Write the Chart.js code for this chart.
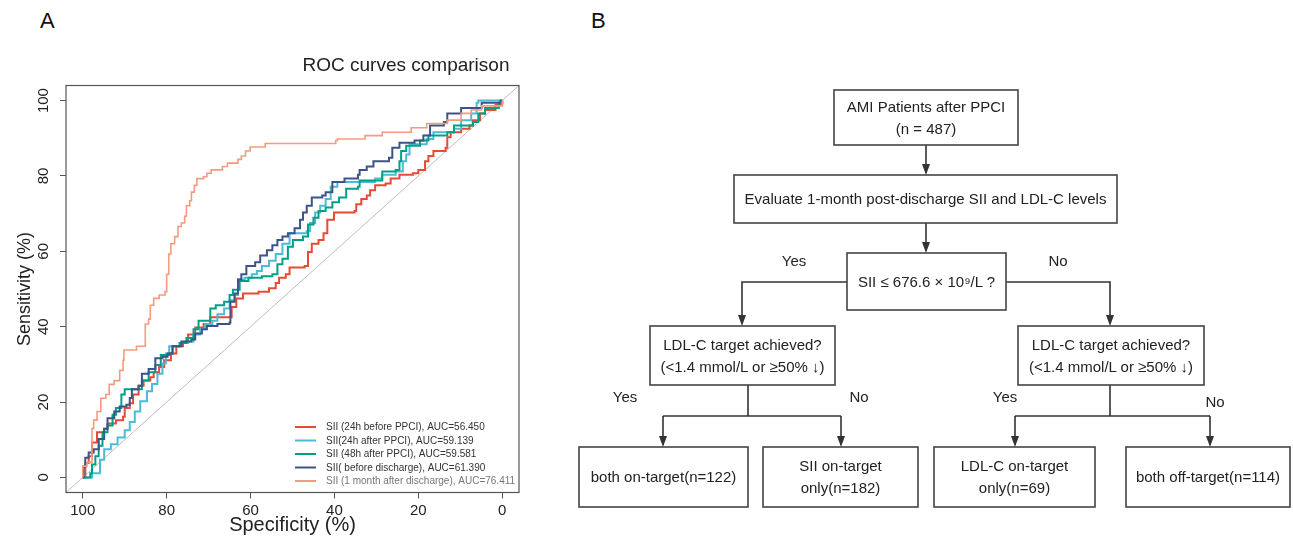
<!DOCTYPE html>
<html>
<head>
<meta charset="utf-8">
<script src="https://cdn.jsdelivr.net/npm/chart.js@4"></script>
<style>
  html, body { margin: 0; padding: 0; background: #fff; }
  body { width: 1293px; height: 537px; position: relative; overflow: hidden; font-family: 'Liberation Sans', Arial, sans-serif; }
  #roc { position: absolute; left: 0; top: 0; }
  .panel { position: absolute; font-size: 22px; line-height: 22px; color: #111; }
  #flow { position: absolute; left: 0; top: 0; }
</style>
</head>
<body>
<div class="panel" style="left:40px;top:10px">A</div>
<div class="panel" style="left:591px;top:10px">B</div>
<canvas id="roc" width="560" height="537"></canvas>
<svg id="flow" width="1293" height="537"></svg>
<script>
// ROC data: [specificity %, sensitivity %]
const roc24hBefore = [[100,0],[99.4,3.8],[98.6,5.6],[97.8,9.3],[96.6,12],[94.9,12.9],[94.1,14.3],[92.1,15.2],[90.4,16.1],[90,18.4],[88.8,19.7],[88,22],[86.7,24.3],[85.5,25.7],[83.9,26.6],[83.1,27.9],[81.8,29.3],[80.6,31.1],[79,32.9],[77.7,34.8],[76.1,35.7],[74.9,37.9],[73.2,39.8],[71.2,40.7],[69.6,42.5],[65,42.5],[64.5,45.2],[63.4,47.5],[61.8,48.8],[58.1,49.3],[55.6,50.2],[54,51.6],[53.2,53],[51.6,53.9],[50.7,55.7],[47.1,56.1],[46.3,59.8],[45.4,62],[43.8,63],[42.6,64.8],[41.7,68.4],[40.1,70.3],[35.2,70.7],[34.8,72.5],[33.6,73.9],[32.3,74.8],[31.5,76.2],[30.3,77.5],[27.8,78],[26.6,79.3],[24.5,80.3],[21.3,80.7],[20,81.6],[18.8,81.6],[18.4,83.9],[17.6,85.3],[16.4,86.6],[13.5,87.5],[13.1,90.3],[12.3,91.6],[9.8,92.5],[7.8,93.4],[7,94.8],[5.3,96.6],[4.1,97.5],[1.6,98.9],[0,100]];
const roc24hAfter = [[100,0],[98.2,0],[97.8,1.1],[96.3,1.1],[95.9,4.7],[94.9,7.5],[93.3,8.8],[91.7,10.6],[90,12.5],[88.8,14.7],[87.6,17.5],[86.3,20.2],[84.7,22.9],[83.5,24.8],[82.2,27.5],[81,30.2],[80.2,32.9],[79.4,34.8],[76.9,35.7],[74.9,36.1],[73.6,37.9],[72,39.3],[70.8,40.7],[69.1,41.6],[67.9,43.3],[66.3,44.8],[65,47],[63.8,48.4],[63,52.5],[61.4,53],[59.7,53.9],[58.5,54.8],[57.3,56.1],[55.6,57.5],[54,59.3],[52.4,62],[50.7,64.8],[46.6,65.3],[45.8,67.5],[44.6,70.3],[43.4,72.1],[42.1,73.9],[40.9,77.1],[39.3,78.4],[30.3,79.3],[28.6,80.3],[25.4,81.2],[23.7,83.9],[22.9,85.7],[22.1,88.4],[18,89.8],[16.4,91.6],[11.5,92.5],[9.8,94.8],[7.4,96.6],[6.1,99.4],[5.7,100],[0,100]];
const roc48hAfter = [[100,0],[99.4,0],[98.2,1.1],[97.8,3.4],[97,5.6],[96.2,8.4],[95.3,12],[94.1,13.8],[92.9,16.6],[92.1,18.4],[90.8,22],[90,23.4],[87.2,23.4],[85.9,25.7],[84.3,27.9],[82.7,29.8],[81.4,32.5],[79.4,32.9],[78.6,34.8],[76.9,35.7],[75.3,37],[73.6,39.3],[72.4,41.6],[69.6,44.8],[68.3,45.7],[66.3,46.6],[65,48.4],[64.2,49.8],[62.6,52.1],[60.5,53],[57.3,53.4],[54.8,53.9],[53.6,56.6],[52.4,58],[51.1,61.2],[49.9,63],[47.5,63.9],[46.3,67.1],[45,68.9],[43.8,70.7],[42.1,71.6],[40.5,73],[38.9,74.3],[37.2,76.6],[34.4,77.1],[34,78.8],[29.9,78.8],[28.6,81.2],[25.4,81.6],[24.5,83.9],[24.1,86.6],[22.9,88],[19.6,89.4],[17.6,90.7],[13.1,91.6],[11.5,93.4],[7,94.3],[5.7,96.6],[4.1,98],[0.8,99.4],[0,100]];
const rocBeforeDischarge = [[100,0],[99.8,2.9],[99.4,5.2],[98.6,6.6],[97.4,7.5],[96.2,10.2],[94.9,12.9],[94.1,15.7],[92.5,17.5],[91.2,18.8],[89.6,19.3],[88.8,21.1],[88.3,23.4],[86.7,24.3],[85.9,27.5],[84.3,28.8],[82.7,31.6],[81,32],[79.8,32.9],[78.6,34.8],[76.5,36.1],[74.1,36.6],[73.2,38.2],[71.6,39.3],[70.4,40.2],[67.9,40.7],[65,41.1],[64.8,46.6],[63.8,48.8],[63,52.5],[62.2,53.9],[61,56.1],[58.9,57.1],[57.7,58.9],[56.1,60.3],[54.8,61.6],[53.6,63],[52.4,63.9],[51.1,64.8],[49.5,66.1],[48.2,68.4],[47.5,70.3],[46.6,72.1],[45.4,74.3],[42.9,74.8],[42.1,75.7],[40.5,78.4],[37.6,79.3],[34.4,80.3],[34,81.6],[32.3,82.5],[30.7,83.9],[27,84.8],[26.2,87.5],[24.5,88.8],[20.9,89.4],[18.8,90.7],[17.2,93.4],[13.9,94.3],[13.1,96.6],[9.8,98],[4.9,99.4],[0.4,100],[0,100]];
const roc1MonthAfter = [[100,0],[100,3],[99,4],[97.8,13],[97.4,15.2],[96.6,17.5],[95.7,21],[94.5,22],[93.7,24.7],[92.5,25.7],[91.2,28.4],[90.4,31.1],[90.2,33.8],[88,33.8],[87.2,34.8],[85.3,34.8],[85.1,40.7],[84.3,42],[83.9,45.7],[83.1,47.5],[81.8,48.4],[80.4,49.3],[80,53.9],[79.5,59.3],[79,62],[78.1,63.9],[77.3,66.6],[76.5,67.5],[75.7,69.3],[75.3,72.1],[74.5,73.4],[74.1,75.7],[73.4,77.5],[72.8,79.3],[71.2,79.8],[70.4,80.7],[69.4,81.6],[67.1,81.6],[66.7,82.5],[65.5,83.4],[63,84.4],[62.2,85.3],[61.2,86.6],[60.1,87.7],[56.5,88.6],[39.7,89.4],[39.3,89.8],[32.7,90.7],[28.6,91.6],[21.7,92.8],[18,93.9],[13.1,94.8],[9.8,96.6],[7.4,97.5],[4.9,98.6],[0,99.4],[0,100]];

const seriesData = [roc24hBefore, roc24hAfter, roc48hAfter, rocBeforeDischarge, roc1MonthAfter];
const seriesLabels = ['SII (24h before PPCI), AUC=56.450', 'SII(24h after PPCI), AUC=59.139', 'SII (48h after PPCI), AUC=59.581', 'SII( before discharge), AUC=61.390', 'SII (1 month after discharge), AUC=76.411'];
const seriesColors = ['#E64B35', '#4DBBD5', '#00A087', '#3C5488', '#F39B7F'];
const legendTextColors = ['#333', '#333', '#333', '#333', '#777'];

const axisLimits = [-4, 104];
const xTicks = [0, 20, 40, 60, 80, 100];
const yTicks = [0, 20, 40, 60, 80, 100];

const FONT = "'Liberation Sans', Arial, sans-serif";
Chart.defaults.font.family = FONT;

const datasets = seriesData.map((pts, i) => ({
  label: seriesLabels[i],
  data: pts.map(p => ({ x: p[0], y: p[1] })),
  borderColor: seriesColors[i],
  borderWidth: i === 4 ? 1.6 : 2,
  stepped: 'before',
  pointRadius: 0,
  fill: false,
  order: seriesData.length - i
}));
// chance line across the whole plot region
datasets.push({
  label: 'diag',
  data: [{ x: axisLimits[1], y: axisLimits[0] }, { x: axisLimits[0], y: axisLimits[1] }],
  borderColor: '#bdbdbd',
  borderWidth: 1,
  pointRadius: 0,
  order: 10
});

const frame = {
  id: 'frame',
  afterDatasetsDraw(chart) {
    const { ctx, chartArea: a } = chart;
    ctx.save();
    ctx.strokeStyle = '#555';
    ctx.lineWidth = 1.2;
    ctx.strokeRect(a.left, a.top, a.right - a.left, a.bottom - a.top);
    ctx.restore();
  },
  afterDraw(chart) {
    const { ctx } = chart;
    ctx.save();
    ctx.fillStyle = '#222';
    ctx.font = '19px ' + FONT;
    ctx.textAlign = 'center';
    ctx.textBaseline = 'middle';
    ctx.fillText('ROC curves comparison', 406, 66);
    // legend, bottom right inside the box
    ctx.font = '10px ' + FONT;
    ctx.textAlign = 'left';
    seriesLabels.forEach((lab, i) => {
      const y = 427 + i * 13.5;
      ctx.strokeStyle = seriesColors[i];
      ctx.lineWidth = 2;
      ctx.beginPath();
      ctx.moveTo(295, y);
      ctx.lineTo(316, y);
      ctx.stroke();
      ctx.fillStyle = legendTextColors[i];
      ctx.fillText(lab, 326, y + 0.5);
    });
    ctx.restore();
  }
};

new Chart(document.getElementById('roc'), {
  type: 'line',
  data: { datasets },
  options: {
    responsive: false,
    maintainAspectRatio: false,
    animation: false,
    layout: { padding: { top: 85.5, right: 41, left: 0, bottom: 0 } },
    plugins: { legend: { display: false }, tooltip: { enabled: false } },
    scales: {
      x: {
        type: 'linear', reverse: true, min: axisLimits[0], max: axisLimits[1],
        afterBuildTicks: s => { s.ticks = xTicks.map(v => ({ value: v })); },
        afterFit: s => { s.height = 44.5; },
        border: { display: false },
        grid: { drawOnChartArea: false, tickLength: 6, color: '#555' },
        ticks: { maxRotation: 0, padding: 3, color: '#222', font: { size: 15 } },
        title: { display: true, text: 'Specificity (%)', color: '#222', font: { size: 20, lineHeight: 1 }, padding: { top: 0, bottom: 2 } }
      },
      y: {
        type: 'linear', min: axisLimits[0], max: axisLimits[1],
        afterBuildTicks: s => { s.ticks = yTicks.map(v => ({ value: v })); },
        afterFit: s => { s.width = 66; },
        border: { display: false },
        grid: { drawOnChartArea: false, tickLength: 6, color: '#555' },
        ticks: { minRotation: 90, maxRotation: 90, crossAlign: 'center', padding: 4, color: '#222', font: { size: 15 } },
        title: { display: true, text: 'Sensitivity (%)', color: '#222', font: { size: 18, lineHeight: 1 }, padding: { top: 16, bottom: 0 } }
      }
    }
  },
  plugins: [frame]
});

// ---- panel B: flow chart ----
const boxes = [
  { x: 834, y: 90, w: 184, h: 55, lines: ['AMI Patients after PPCI', '(n = 487)'] },
  { x: 734, y: 175, w: 383, h: 48, lines: ['Evaluate 1-month post-discharge SII and LDL-C levels'] },
  { x: 847, y: 253, w: 159, h: 57, lines: ['SII \u2264 676.6 \u00d7 10\u2079/L ?'] },
  { x: 650, y: 326, w: 185, h: 59, lines: ['LDL-C target achieved?', '(<1.4 mmol/L or \u226550% \u2193)'] },
  { x: 1018, y: 326, w: 186, h: 59, lines: ['LDL-C target achieved?', '(<1.4 mmol/L or \u226550% \u2193)'] },
  { x: 579, y: 447, w: 169, h: 60, lines: ['both on-target(n=122)'] },
  { x: 763, y: 447, w: 155, h: 60, lines: ['SII on-target', 'only(n=182)'] },
  { x: 934, y: 447, w: 161, h: 60, lines: ['LDL-C on-target', 'only(n=69)'] },
  { x: 1126, y: 447, w: 164, h: 60, lines: ['both off-target(n=114)'] }
];
const links = [
  [[926, 145], [926, 175]],
  [[926, 223], [926, 253]],
  [[847, 282], [742, 282], [742, 326]],
  [[1006, 282], [1110, 282], [1110, 326]],
  [[748, 385], [748, 416]],
  [[663, 416], [841, 416]],
  [[663, 416], [663, 447]],
  [[841, 416], [841, 447]],
  [[1110, 385], [1110, 416]],
  [[1015, 416], [1210, 416]],
  [[1015, 416], [1015, 447]],
  [[1210, 416], [1210, 447]]
];
const arrowLinks = [0, 1, 2, 3, 6, 7, 10, 11];
const branchLabels = [
  { x: 794, y: 261, t: 'Yes' }, { x: 1058, y: 261, t: 'No' },
  { x: 625, y: 397, t: 'Yes' }, { x: 859, y: 397, t: 'No' },
  { x: 1005, y: 397, t: 'Yes' }, { x: 1215, y: 402, t: 'No' }
];

const svg = document.getElementById('flow');
const NS = 'http://www.w3.org/2000/svg';
function el(tag, attrs, text) {
  const e = document.createElementNS(NS, tag);
  Object.keys(attrs).forEach(k => e.setAttribute(k, attrs[k]));
  if (text != null) e.textContent = text;
  svg.appendChild(e);
  return e;
}
links.forEach((pts, i) => {
  let p = pts.slice();
  const arrow = arrowLinks.includes(i);
  if (arrow) {
    const last = p[p.length - 1];
    p[p.length - 1] = [last[0], last[1] - 8];
  }
  el('polyline', { points: p.map(q => q.join(',')).join(' '), fill: 'none', stroke: '#333', 'stroke-width': 1.6 });
  if (arrow) {
    const [tx, ty] = pts[pts.length - 1];
    el('polygon', { points: `${tx - 4},${ty - 11} ${tx + 4},${ty - 11} ${tx},${ty}`, fill: '#333' });
  }
});
boxes.forEach(b => {
  el('rect', { x: b.x, y: b.y, width: b.w, height: b.h, fill: '#fff', stroke: '#444', 'stroke-width': 1.6 });
  const cx = b.x + b.w / 2;
  const cy = b.y + b.h / 2;
  const lh = 22;
  b.lines.forEach((t, i) => {
    const y = cy + (i - (b.lines.length - 1) / 2) * lh;
    el('text', { x: cx, y: y + 5, 'text-anchor': 'middle', 'font-family': FONT, 'font-size': 15, fill: '#222' }, t);
  });
});
branchLabels.forEach(l => {
  el('text', { x: l.x, y: l.y + 5, 'text-anchor': 'middle', 'font-family': FONT, 'font-size': 15, fill: '#222' }, l.t);
});
</script>
</body>
</html>
